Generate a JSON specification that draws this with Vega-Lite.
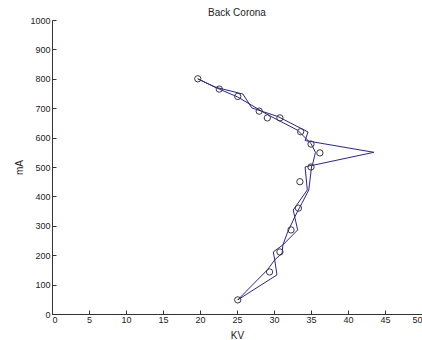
{
  "$schema": "https://vega.github.io/schema/vega-lite/v6.json",
  "width": 370,
  "height": 294,
  "autosize": {"type": "none"},
  "padding": {"left": 52, "top": 20, "right": 0, "bottom": 26},
  "background": "white",
  "config": {
    "view": {"stroke": null},
    "font": "Liberation Sans",
    "axis": {
      "grid": false,
      "domainColor": "#333333",
      "tickColor": "#333333",
      "labelColor": "#222222",
      "titleColor": "#222222",
      "labelFont": "Liberation Sans",
      "titleFont": "Liberation Sans",
      "labelFontSize": 9,
      "titleFontSize": 10,
      "titleFontWeight": "normal",
      "tickSize": -4,
      "format": "d"
    }
  },
  "title": {
    "text": "Back Corona",
    "fontSize": 10,
    "fontWeight": "normal",
    "font": "Liberation Sans",
    "color": "#222222",
    "anchor": "middle",
    "offset": -2
  },
  "datasets": {
    "lines": [
      {"s": "A", "i": 1, "kv": 19.7, "ma": 800},
      {"s": "A", "i": 2, "kv": 22.0, "ma": 772},
      {"s": "A", "i": 3, "kv": 25.8, "ma": 748},
      {"s": "A", "i": 4, "kv": 27.0, "ma": 701},
      {"s": "A", "i": 5, "kv": 28.3, "ma": 690},
      {"s": "A", "i": 6, "kv": 30.5, "ma": 672},
      {"s": "A", "i": 7, "kv": 34.6, "ma": 619},
      {"s": "A", "i": 8, "kv": 34.2, "ma": 590},
      {"s": "A", "i": 9, "kv": 43.5, "ma": 550},
      {"s": "A", "i": 10, "kv": 35.1, "ma": 505},
      {"s": "A", "i": 11, "kv": 34.7, "ma": 422},
      {"s": "A", "i": 12, "kv": 33.8, "ma": 378},
      {"s": "A", "i": 13, "kv": 32.8, "ma": 330},
      {"s": "A", "i": 14, "kv": 33.2, "ma": 286},
      {"s": "A", "i": 15, "kv": 31.2, "ma": 235},
      {"s": "A", "i": 16, "kv": 31.1, "ma": 207},
      {"s": "A", "i": 17, "kv": 30.1, "ma": 184},
      {"s": "A", "i": 18, "kv": 30.4, "ma": 133},
      {"s": "A", "i": 19, "kv": 25.1, "ma": 48},
      {"s": "B", "i": 1, "kv": 19.7, "ma": 800},
      {"s": "B", "i": 2, "kv": 22.6, "ma": 765},
      {"s": "B", "i": 3, "kv": 25.1, "ma": 738},
      {"s": "B", "i": 4, "kv": 29.2, "ma": 677},
      {"s": "B", "i": 5, "kv": 33.2, "ma": 625},
      {"s": "B", "i": 6, "kv": 35.0, "ma": 580},
      {"s": "B", "i": 7, "kv": 35.6, "ma": 550},
      {"s": "B", "i": 8, "kv": 35.2, "ma": 507},
      {"s": "B", "i": 9, "kv": 34.2, "ma": 500},
      {"s": "B", "i": 10, "kv": 34.5, "ma": 422},
      {"s": "B", "i": 11, "kv": 32.6, "ma": 354},
      {"s": "B", "i": 12, "kv": 32.8, "ma": 330},
      {"s": "B", "i": 13, "kv": 31.8, "ma": 276},
      {"s": "B", "i": 14, "kv": 31.2, "ma": 235},
      {"s": "B", "i": 15, "kv": 29.9, "ma": 211},
      {"s": "B", "i": 16, "kv": 30.1, "ma": 184},
      {"s": "B", "i": 17, "kv": 29.1, "ma": 150},
      {"s": "B", "i": 18, "kv": 25.1, "ma": 48}
    ],
    "obs": [
      {"kv": 19.7, "ma": 800},
      {"kv": 22.6, "ma": 765},
      {"kv": 25.1, "ma": 740},
      {"kv": 28.0, "ma": 690},
      {"kv": 29.1, "ma": 667},
      {"kv": 30.8, "ma": 667},
      {"kv": 33.6, "ma": 620},
      {"kv": 35.0, "ma": 578},
      {"kv": 36.2, "ma": 548},
      {"kv": 35.0, "ma": 500},
      {"kv": 33.5, "ma": 450},
      {"kv": 33.3, "ma": 360},
      {"kv": 32.3, "ma": 286},
      {"kv": 30.8, "ma": 211},
      {"kv": 29.4, "ma": 143},
      {"kv": 25.1, "ma": 48}
    ]
  },
  "layer": [
    {
      "data": {"name": "lines"},
      "mark": {"type": "line", "color": "#26268e", "strokeWidth": 1},
      "encoding": {
        "x": {"field": "kv", "type": "quantitative", "scale": {"domain": [0, 50], "nice": false}, "axis": {"title": "KV", "values": [0,5,10,15,20,25,30,35,40,45,50], "tickCount": 11, "labelOverlap": false, "labelPadding": 5, "titlePadding": 6}},
        "y": {"field": "ma", "type": "quantitative", "scale": {"domain": [0, 1000], "nice": false}, "axis": {"title": "mA", "values": [0,100,200,300,400,500,600,700,800,900,1000], "tickCount": 11, "labelOverlap": false, "labelPadding": 6, "titleX": -33, "titleY": 147, "titleAlign": "center", "titleBaseline": "middle", "titleAngle": -90}},
        "detail": {"field": "s"},
        "order": {"field": "i", "type": "quantitative"}
      }
    },
    {
      "data": {"name": "obs"},
      "mark": {"type": "point", "shape": "circle", "filled": false, "stroke": "#3a3a3a", "strokeWidth": 1, "size": 40, "opacity": 1},
      "encoding": {
        "x": {"field": "kv", "type": "quantitative"},
        "y": {"field": "ma", "type": "quantitative"}
      }
    }
  ]
}
